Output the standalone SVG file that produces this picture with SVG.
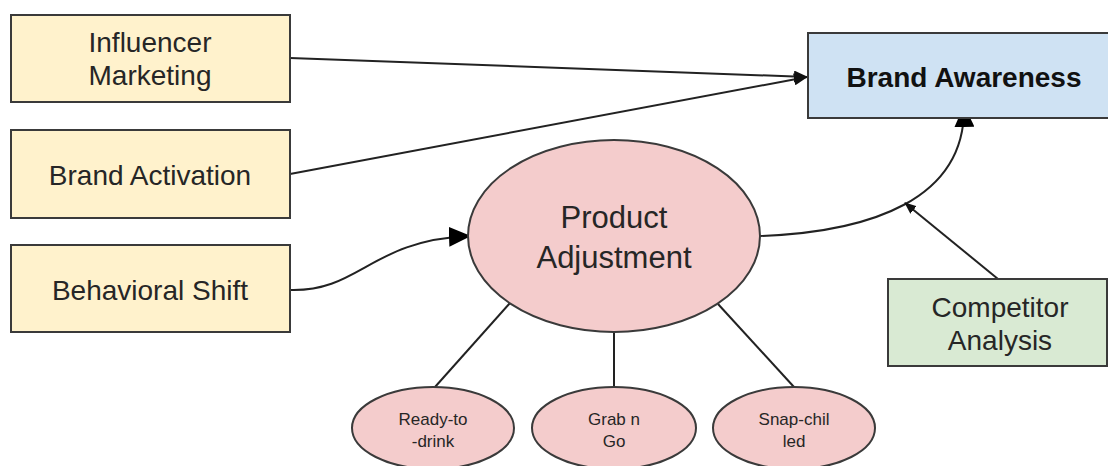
<svg xmlns="http://www.w3.org/2000/svg" width="1108" height="466" viewBox="0 0 1108 466">
<style>
.box{stroke:#3a3a3a;stroke-width:2}
.yel{fill:#fff2cc}
.blu{fill:#cfe2f3}
.grn{fill:#d9ead3}
.pnk{fill:#f4cccc}
.t{font-family:"Liberation Sans",Arial,sans-serif;fill:#262626;text-anchor:middle}
.big{font-size:28px}
.pa{font-size:31px}
.sm{font-size:17px}
.bold{font-weight:bold;font-size:28px;fill:#111}
.ln{fill:none;stroke:#222;stroke-width:2}
</style>
<defs>
<marker id="ah" markerUnits="userSpaceOnUse" markerWidth="14" markerHeight="12" refX="13" refY="6" orient="auto"><path d="M0,0 L14,6 L0,12 z" fill="#111"/></marker>
<marker id="ahs" markerUnits="userSpaceOnUse" markerWidth="12" markerHeight="10" refX="11" refY="5" orient="auto"><path d="M0,0 L12,5 L0,10 z" fill="#111"/></marker>
<marker id="ahb" markerUnits="userSpaceOnUse" markerWidth="22" markerHeight="20" refX="21" refY="10" orient="auto"><path d="M0,0 L22,10 L0,20 z" fill="#000"/></marker>
</defs>
<g id="connectors">
<path class="ln" d="M290,58 L807,77" marker-end="url(#ah)"/>
<path class="ln" d="M290,174 L807,77" marker-end="url(#ah)"/>
<path class="ln" d="M290,290 C360,292 370,240 470,236" marker-end="url(#ahb)"/>
<path class="ln" d="M760,236 C870,232 966,200 964,106" marker-end="url(#ahb)"/>
<path class="ln" d="M998,279 L905,203" marker-end="url(#ahs)"/>
<path class="ln" d="M510,303 L435,387"/>
<path class="ln" d="M614,332 L614,387"/>
<path class="ln" d="M718,304 L794,387"/>
</g>
<g id="influencer">
<rect class="box yel" x="11" y="15" width="279" height="87"/>
<text class="t big" x="150" y="52">Influencer</text>
<text class="t big" x="150" y="85">Marketing</text>
</g>
<g id="activation">
<rect class="box yel" x="11" y="130" width="279" height="88"/>
<text class="t big" x="150" y="185">Brand Activation</text>
</g>
<g id="behavioral">
<rect class="box yel" x="11" y="245" width="279" height="87"/>
<text class="t big" x="150" y="300">Behavioral Shift</text>
</g>
<g id="awareness">
<rect class="box blu" x="808" y="33" width="320" height="85"/>
<text class="t bold" x="964" y="87">Brand Awareness</text>
</g>
<g id="competitor">
<rect class="box grn" x="888" y="279" width="219" height="87"/>
<text class="t big" x="1000" y="317">Competitor</text>
<text class="t big" x="1000" y="350">Analysis</text>
</g>
<g id="product">
<ellipse class="box pnk" cx="614" cy="236" rx="146" ry="96"/>
<text class="t pa" x="614" y="228">Product</text>
<text class="t pa" x="614" y="268">Adjustment</text>
</g>
<g id="ready">
<ellipse class="box pnk" cx="433" cy="428" rx="81" ry="41"/>
<text class="t sm" x="433" y="425">Ready-to</text>
<text class="t sm" x="433" y="447">-drink</text>
</g>
<g id="grab">
<ellipse class="box pnk" cx="614" cy="428" rx="82" ry="41"/>
<text class="t sm" x="614" y="425">Grab n</text>
<text class="t sm" x="614" y="447">Go</text>
</g>
<g id="snap">
<ellipse class="box pnk" cx="794" cy="428" rx="81" ry="41"/>
<text class="t sm" x="794" y="425">Snap-chil</text>
<text class="t sm" x="794" y="447">led</text>
</g>
</svg>
